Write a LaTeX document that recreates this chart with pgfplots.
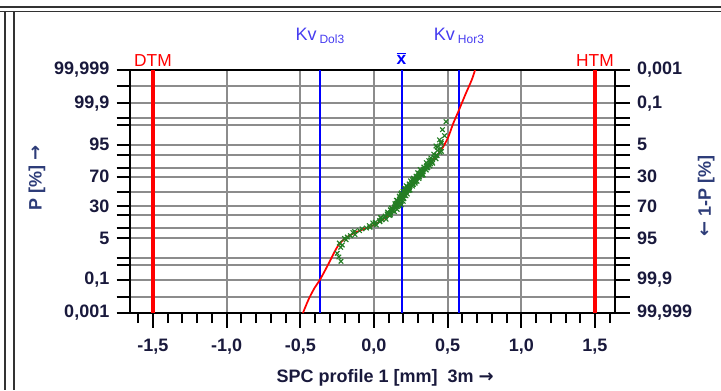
\documentclass[border=0pt]{standalone}
\usepackage{pgfplots}
\pgfplotsset{compat=1.18}
\usepackage{fontspec}
\setmainfont{Liberation Sans}
\newfontfamily\symfont{DejaVu Sans}
\definecolor{txt}{RGB}{25,25,60}
\definecolor{lbl}{RGB}{45,60,120}
\definecolor{kv}{RGB}{70,60,240}
\definecolor{ptgreen}{RGB}{35,125,35}
\definecolor{gridgray}{RGB}{140,140,140}
\definecolor{framegray}{RGB}{50,50,50}

\pgfplotstableread{
x z
-0.224 -2.450
-0.238 -2.300
-0.250 -2.170
-0.226 -1.960
-0.215 -1.880
-0.235 -1.812
-0.189 -1.695
-0.200 -1.650
-0.181 -1.598
-0.160 -1.550
-0.129 -1.514
-0.143 -1.440
-0.132 -1.406
-0.098 -1.372
-0.081 -1.311
-0.051 -1.283
-0.027 -1.254
-0.032 -1.200
0.016 -1.175
0.001 -1.150
-0.008 -1.103
0.009 -1.081
0.040 -1.058
0.039 -1.015
0.054 -0.995
0.082 -0.974
0.049 -0.935
0.045 -0.916
0.077 -0.896
0.076 -0.860
0.105 -0.842
0.112 -0.824
0.090 -0.789
0.101 -0.772
0.112 -0.755
0.092 -0.722
0.139 -0.706
0.130 -0.690
0.120 -0.659
0.111 -0.644
0.157 -0.628
0.120 -0.598
0.120 -0.583
0.143 -0.568
0.139 -0.539
0.159 -0.525
0.171 -0.510
0.145 -0.482
0.186 -0.468
0.164 -0.454
0.142 -0.426
0.152 -0.413
0.177 -0.399
0.164 -0.372
0.174 -0.359
0.198 -0.345
0.159 -0.319
0.152 -0.306
0.180 -0.292
0.173 -0.266
0.199 -0.253
0.203 -0.240
0.176 -0.215
0.186 -0.202
0.195 -0.189
0.172 -0.164
0.217 -0.151
0.206 -0.138
0.193 -0.113
0.182 -0.101
0.227 -0.088
0.187 -0.063
0.185 -0.051
0.208 -0.038
0.200 -0.013
0.218 0.000
0.197 0.013
0.237 0.038
0.245 0.051
0.216 0.063
0.237 0.088
0.214 0.101
0.205 0.113
0.240 0.138
0.238 0.151
0.227 0.164
0.261 0.189
0.218 0.202
0.244 0.215
0.264 0.240
0.267 0.253
0.239 0.266
0.280 0.292
0.257 0.306
0.259 0.319
0.280 0.345
0.292 0.359
0.248 0.372
0.284 0.399
0.261 0.413
0.271 0.426
0.305 0.454
0.268 0.468
0.288 0.482
0.309 0.510
0.305 0.525
0.285 0.539
0.326 0.568
0.334 0.583
0.306 0.598
0.327 0.628
0.304 0.644
0.296 0.659
0.332 0.690
0.331 0.706
0.320 0.722
0.355 0.755
0.313 0.772
0.339 0.789
0.361 0.824
0.365 0.842
0.338 0.860
0.380 0.896
0.359 0.916
0.362 0.935
0.384 0.974
0.398 0.995
0.355 1.015
0.393 1.058
0.372 1.081
0.384 1.103
0.421 1.150
0.386 1.175
0.408 1.200
0.429 1.254
0.426 1.283
0.406 1.311
0.448 1.372
0.458 1.406
0.430 1.440
0.453 1.514
0.430 1.556
0.421 1.598
0.457 1.695
0.456 1.754
0.445 1.812
0.479 1.960
0.465 2.170
0.489 2.450
}\samples

\pgfplotstableread{
x z
-0.482 -4.265
-0.445 -3.80
-0.405 -3.40
-0.367 -3.10
-0.330 -2.75
-0.300 -2.45
-0.276 -2.20
-0.253 -1.98
-0.232 -1.82
-0.208 -1.70
-0.165 -1.54
-0.117 -1.42
-0.060 -1.30
-0.005 -1.18
0.045 -1.04
0.086 -0.88
0.130 -0.64
0.177 -0.30
0.220 -0.01
0.267 0.29
0.320 0.63
0.380 0.99
0.430 1.28
0.470 1.57
0.505 1.92
0.538 2.39
0.577 2.86
0.620 3.40
0.663 3.91
0.686 4.265
}\fitcurve

\begin{document}
\begin{tikzpicture}[x=0.75pt,y=-0.75pt]
\path[use as bounding box] (0,0) rectangle (721,390);
% window frame
\draw[framegray, line width=1.2pt] (0,7) -- (721,7);
\draw[framegray, line width=1.2pt] (0,11.5) -- (721,11.5);
\draw[framegray, line width=1.2pt] (5,11.5) -- (5,390);
\draw[framegray, line width=1.2pt] (14,11.5) -- (14,390);

% probability levels: normal quantiles of 0.001, 0.01, 0.1, 0.5, 1, 5, 10, 20, 30, 50, 70, 80, 90, 95, 99, 99.5, 99.9, 99.99, 99.999 %
\pgfplotsset{
  probaxis/.style={
    at={(97.5pt,-234.75pt)}, anchor=south west,
    scale only axis, width=363.75pt, height=182.25pt,
    xmin=-1.656, xmax=1.636, ymin=-4.265, ymax=4.265,
    ytick={-4.265,-3.719,-3.090,-2.576,-2.326,-1.645,-1.282,-0.842,-0.524,0,0.524,0.842,1.282,1.645,2.326,2.576,3.090,3.719,4.265},
    tick align=outside,
    every tick/.style={black, line width=1.5pt},
    axis line style={black, line width=1.7pt},
    tick label style={font=\fontsize{13.5}{15}\selectfont\bfseries, text=txt},
  }
}

% main axis: grid, x axis, data
\begin{axis}[probaxis,
  major tick length=11pt, minor tick length=7.5pt,
  xtick={-1.5,-1,-0.5,0,0.5,1,1.5},
  xticklabels={{-1,5},{-1,0},{-0,5},{0,0},{0,5},{1,0},{1,5}},
  minor xtick={-1.6,-1.4,-1.3,-1.2,-1.1,-0.9,-0.8,-0.7,-0.6,-0.4,-0.3,-0.2,-0.1,0.1,0.2,0.3,0.4,0.6,0.7,0.8,0.9,1.1,1.2,1.3,1.4,1.6},
  xtick pos=bottom,
  yticklabels={},
  y tick style={draw=none},
  xmajorgrids, ymajorgrids,
  major grid style={gridgray, line width=1.5pt},
  xticklabel style={yshift=-5pt},
  xlabel={SPC profile 1 [mm]\ \ 3m {\symfont →}},
  every axis x label/.style={at={(axis description cs:0.526,0)}, anchor=center, yshift=-48.75pt, font=\fontsize{13.5}{15}\selectfont\bfseries, text=txt},
  clip=true,
]
\addplot[red, line width=3pt] coordinates {(-1.5,-4.265) (-1.5,4.265)};
\addplot[red, line width=3pt] coordinates {(1.5,-4.265) (1.5,4.265)};
\addplot[only marks, mark=x, mark size=2.4pt, ptgreen, mark options={line width=0.85pt}] table[x=x,y=z] {\samples};
\addplot[blue, line width=1.5pt] coordinates {(-0.367,-4.265) (-0.367,4.265)};
\addplot[blue, line width=1.5pt] coordinates {(0.187,-4.265) (0.187,4.265)};
\addplot[blue, line width=1.5pt] coordinates {(0.577,-4.265) (0.577,4.265)};
\addplot[red, line width=1.3pt, smooth] table[x=x,y=z] {\fitcurve};
\end{axis}

% left probability axis
\begin{axis}[probaxis,
  axis x line=none, axis y line*=left,
  major tick length=10pt,
  yticklabels={{0,001},{},{0,1},{},{},{5},{},{},{30},{},{70},{},{},{95},{},{},{99,9},{},{99,999}},
  yticklabel style={xshift=-2pt},
  ylabel={P [\%] {\symfont →}},
  every axis y label/.style={at={(axis description cs:-0.192,0.554)}, anchor=center, rotate=90, font=\fontsize{13.5}{15}\selectfont\bfseries, text=lbl},
]
\addplot[draw=none] coordinates {(0,0)};
\end{axis}

% right 1-P axis with annotations
\begin{axis}[probaxis,
  axis x line=none, axis y line*=right,
  major tick length=11pt,
  yticklabels={{99,999},{},{99,9},{},{},{95},{},{},{70},{},{30},{},{},{5},{},{},{0,1},{},{0,001}},
  yticklabel style={xshift=2pt},
  ylabel={{\symfont ←} 1-P [\%]},
  every axis y label/.style={at={(axis description cs:1.188,0.481)}, anchor=center, rotate=90, font=\fontsize{13.5}{15}\selectfont\bfseries, text=lbl},
  clip=false,
]
\addplot[draw=none] coordinates {(0,0)};
\node[red, anchor=base, inner sep=0pt, yshift=2.5pt, font=\fontsize{13}{14}\selectfont] at (axis cs:-1.5,4.265) {DTM};
\node[red, anchor=base, inner sep=0pt, yshift=2.5pt, font=\fontsize{13}{14}\selectfont] at (axis cs:1.5,4.265) {HTM};
\node[blue, anchor=base, inner sep=0pt, yshift=4pt, font=\fontsize{13}{14}\selectfont\bfseries] at (axis cs:0.187,4.265) {$\overline{\mbox{x}}$};
\node[kv, anchor=base, inner sep=0pt, yshift=22.5pt, font=\fontsize{13.5}{14}\selectfont] at (axis cs:-0.367,4.265) {Kv\,\raisebox{-0.35ex}{\fontsize{9}{9}\selectfont Dol3}};
\node[kv, anchor=base, inner sep=0pt, yshift=22.5pt, font=\fontsize{13.5}{14}\selectfont] at (axis cs:0.577,4.265) {Kv\,\raisebox{-0.35ex}{\fontsize{9}{9}\selectfont Hor3}};
\end{axis}
\end{tikzpicture}
\end{document}
